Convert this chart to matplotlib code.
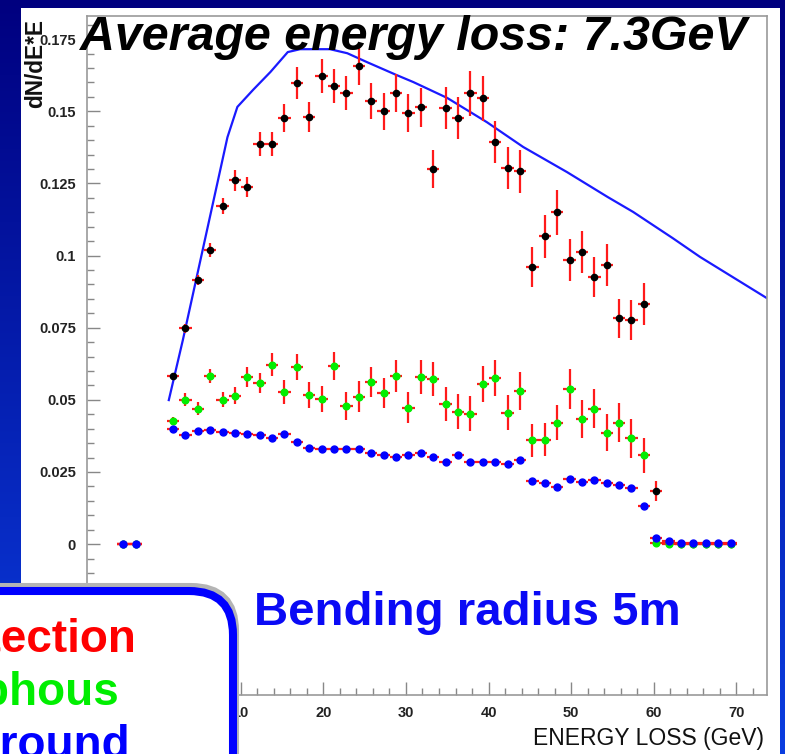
import numpy as np
import matplotlib
matplotlib.use("Agg")
import matplotlib.pyplot as plt
from matplotlib.patches import FancyBboxPatch, Rectangle
from matplotlib.colors import LinearSegmentedColormap
from matplotlib.ticker import MultipleLocator, FuncFormatter

plt.rcParams['font.family'] = ['Liberation Sans', 'DejaVu Sans']

# bin centres (GeV)
energy = [-4.2, -2.7,
          1.8, 3.3, 4.8, 6.3, 7.8, 9.3, 10.8, 12.3, 13.8, 15.3,
          16.8, 18.3, 19.8, 21.3, 22.8, 24.3, 25.8, 27.3, 28.8, 30.3,
          31.8, 33.3, 34.8, 36.3, 37.8, 39.3, 40.8, 42.3, 43.8, 45.3,
          46.8, 48.3, 49.8, 51.3, 52.8, 54.3, 55.8, 57.3, 58.8, 60.3,
          61.8, 63.3, 64.8, 66.3, 67.8, 69.3]

total = [0.0, 0.0,
         0.0582, 0.0748, 0.0915, 0.1019, 0.1171, 0.1261, 0.1237, 0.1386, 0.1386, 0.1476,
         0.1597, 0.1480, 0.1622, 0.1587, 0.1563, 0.1656, 0.1535, 0.1500, 0.1563, 0.1493,
         0.1514, 0.1299, 0.1511, 0.1476, 0.1563, 0.1545, 0.1393, 0.1303, 0.1292, 0.0960,
         0.1067, 0.1150, 0.0984, 0.1012, 0.0925, 0.0967, 0.0783, 0.0776, 0.0832, 0.0184,
         0.0005, 0.0, 0.0, 0.0, 0.0, 0.0]
total_err = [0.0, 0.0,
             0.0012, 0.0016, 0.0018, 0.0024, 0.0028, 0.0036, 0.0034, 0.0042, 0.0042, 0.0048,
             0.0056, 0.0052, 0.0058, 0.0058, 0.0060, 0.0066, 0.0062, 0.0064, 0.0066, 0.0066,
             0.0068, 0.0066, 0.0072, 0.0072, 0.0078, 0.0078, 0.0072, 0.0074, 0.0074, 0.0068,
             0.0074, 0.0078, 0.0072, 0.0074, 0.0070, 0.0074, 0.0068, 0.0070, 0.0072, 0.0035,
             0.0, 0.0, 0.0, 0.0, 0.0, 0.0]

amorphous = [0.0, 0.0,
             0.0428, 0.0500, 0.0469, 0.0583, 0.0500, 0.0514, 0.0579, 0.0559, 0.0621, 0.0528,
             0.0614, 0.0517, 0.0503, 0.0617, 0.0479, 0.0510, 0.0562, 0.0524, 0.0583, 0.0472,
             0.0579, 0.0572, 0.0486, 0.0459, 0.0452, 0.0555, 0.0576, 0.0455, 0.0531, 0.0359,
             0.0362, 0.0421, 0.0538, 0.0434, 0.0469, 0.0386, 0.0421, 0.0366, 0.0307, 0.0003,
             0.0, 0.0, 0.0, 0.0, 0.0, 0.0]
amorphous_err = [0.0, 0.0,
                 0.0012, 0.0022, 0.0022, 0.0025, 0.0026, 0.0030, 0.0034, 0.0034, 0.0040, 0.0042,
                 0.0046, 0.0046, 0.0046, 0.0050, 0.0048, 0.0054, 0.0052, 0.0052, 0.0056, 0.0054,
                 0.0060, 0.0060, 0.0058, 0.0060, 0.0060, 0.0063, 0.0063, 0.0060, 0.0066, 0.0056,
                 0.0058, 0.0062, 0.0070, 0.0066, 0.0068, 0.0064, 0.0068, 0.0068, 0.0060, 0.0,
                 0.0, 0.0, 0.0, 0.0, 0.0, 0.0]

background = [0.0, 0.0,
              0.0400, 0.0379, 0.0393, 0.0397, 0.0390, 0.0386, 0.0383, 0.0379, 0.0366, 0.0383,
              0.0355, 0.0334, 0.0328, 0.0331, 0.0331, 0.0331, 0.0314, 0.0307, 0.0303, 0.0307,
              0.0314, 0.0303, 0.0283, 0.0307, 0.0286, 0.0286, 0.0283, 0.0279, 0.0293, 0.0217,
              0.0210, 0.0197, 0.0224, 0.0214, 0.0221, 0.0210, 0.0203, 0.0193, 0.0131, 0.0021,
              0.0010, 0.0003, 0.0003, 0.0003, 0.0003, 0.0003]

# simulation curve
sim_energy = [1.3, 3.0, 8.4, 9.6, 11.5, 13.6, 15.7, 17.2, 20.8, 22.9, 25.3,
              28.9, 30.9, 35.0, 39.8, 44.2, 49.5, 54.4, 57.5, 62.3, 65.6, 73.7]
sim_value = [0.0499, 0.0707, 0.1410, 0.1515, 0.1574, 0.1636, 0.1705, 0.1715, 0.1715, 0.1701, 0.1670,
             0.1625, 0.1601, 0.1546, 0.1462, 0.1376, 0.1289, 0.1203, 0.1151, 0.1060, 0.0995, 0.0852]

W, H = 785, 754
fig = plt.figure(figsize=(W / 100, H / 100), dpi=100)

# slide background
ax_bg = fig.add_axes([0, 0, 1, 1], zorder=-5)
cmap = LinearSegmentedColormap.from_list("slide", [(0.0, 0.0, 0.50), (0.04, 0.24, 0.88)])
ax_bg.imshow(np.linspace(0, 1, 256)[:, None], cmap=cmap, aspect='auto', extent=(0, W, H, 0))
ax_bg.add_patch(Rectangle((21, 8), 759, 760, facecolor='white', edgecolor='none'))
ax_bg.set_xlim(0, W)
ax_bg.set_ylim(H, 0)
ax_bg.axis('off')

# histogram axes
ax = fig.add_axes([87 / W, (H - 695) / H, (767 - 87) / W, (695 - 16) / H])
ax.set_facecolor('white')

ax.plot(sim_energy, sim_value, color='#1a1aff', lw=1.6, zorder=2)
ax.errorbar(energy, total, yerr=total_err, xerr=0.75, fmt='o', color='black', ms=4.5,
            ecolor='#ff1a1a', elinewidth=1.6, capsize=0, zorder=3)
ax.errorbar(energy, amorphous, yerr=amorphous_err, xerr=0.75, fmt='o', color='#00ee00', ms=4.8,
            ecolor='#ff1a1a', elinewidth=1.6, capsize=0, zorder=4)
ax.errorbar(energy, background, yerr=0.0004, xerr=0.75, fmt='o', color='#0000ff', ms=5.0,
            ecolor='#ff1a1a', elinewidth=1.6, capsize=0, zorder=5)

ax.set_xlim(-8.6, 73.7)
ax.set_ylim(-0.0523, 0.1830)
ax.xaxis.set_major_locator(MultipleLocator(10))
ax.xaxis.set_minor_locator(MultipleLocator(2))
ax.yaxis.set_major_locator(MultipleLocator(0.025))
ax.yaxis.set_minor_locator(MultipleLocator(0.005))
ax.yaxis.set_major_formatter(FuncFormatter(lambda v, p: f"{v:g}" if abs(v) > 1e-9 else "0"))
ax.xaxis.set_major_formatter(FuncFormatter(lambda v, p: f"{v:g}"))
ax.tick_params(which='both', direction='in', color='#888888', top=False, right=False)
ax.tick_params(which='major', length=9.5, width=1.0, labelsize=10.5, labelcolor='#222222', pad=8)
ax.tick_params(which='minor', length=5, width=1.0)
for lab in ax.get_xticklabels() + ax.get_yticklabels():
    lab.set_fontweight('bold')
for s in ax.spines.values():
    s.set_color('#999999')
    s.set_linewidth(1.2)

# overlay: titles, labels and legend box in pixel coordinates
ov = fig.add_axes([0, 0, 1, 1], zorder=10)
ov.set_xlim(0, W)
ov.set_ylim(H, 0)
ov.axis('off')

ov.text(80, 50, "Average energy loss: 7.3GeV", fontsize=34.8, fontweight='bold',
        fontstyle='italic', ha='left', va='baseline', color='black')
ov.text(36, 19, "dN/dE*E", rotation=90, ha='center', va='top', fontsize=16.3,
        fontweight='bold', color='#111111')
ov.text(764, 738, "ENERGY LOSS (GeV)", ha='right', va='center', fontsize=16.5, color='#111111')
ov.text(254, 625, "Bending radius 5m", fontsize=34.1, fontweight='bold', color='#0a0af5',
        ha='left', va='baseline')

shadow = FancyBboxPatch((-80 + 2, 591 - 4), 313, 260, boxstyle="round,pad=0,rounding_size=44",
                        facecolor='#b4b4b4', edgecolor='#b4b4b4', lw=5.8)
ov.add_patch(shadow)
box = FancyBboxPatch((-80, 591), 313, 260, boxstyle="round,pad=0,rounding_size=44",
                     facecolor='white', edgecolor='#0000ff', lw=5.8)
ov.add_patch(box)
ov.text(137, 652, "Detection", fontsize=33, fontweight='bold', color='#ff0000', ha='right', va='baseline')
ov.text(120, 705, "Amorphous", fontsize=33, fontweight='bold', color='#00ee00', ha='right', va='baseline')
ov.text(130, 758, "Background", fontsize=33, fontweight='bold', color='#0000ff', ha='right', va='baseline')

fig.savefig("out.png", dpi=100)
